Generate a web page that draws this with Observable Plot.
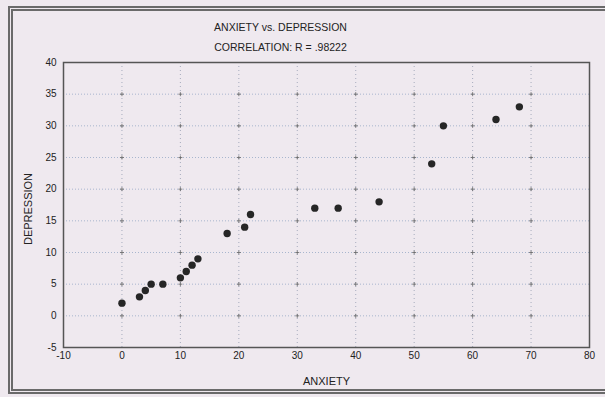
<!DOCTYPE html>
<html><head><meta charset="utf-8">
<script src="https://cdn.jsdelivr.net/npm/d3@7"></script>
<script src="https://cdn.jsdelivr.net/npm/@observablehq/plot@0.6"></script>
<style>
body{margin:0;background:#efe9ef;overflow:hidden;}
#wrap{position:relative;width:605px;height:397px;overflow:hidden;}
#frame{position:absolute;left:8px;top:6px;width:620px;height:388px;border:5px double #6a6a6a;border-right:none;box-sizing:border-box;pointer-events:none;}
#wrap svg{position:absolute;left:0;top:0;}
</style></head><body><div id="wrap"><div id="frame"></div></div>
<script>
const anxiety    = [0, 3, 4, 5, 7, 10, 11, 12, 13, 18, 21, 22, 33, 37, 44, 53, 55, 64, 68];
const depression = [2, 3, 4, 5, 5,  6,  7,  8,  9, 13, 14, 16, 17, 17, 18, 24, 30, 31, 33];
const xTicks = [-10, 0, 10, 20, 30, 40, 50, 60, 70, 80];
const yTicks = [-5, 0, 5, 10, 15, 20, 25, 30, 35, 40];
const title = "ANXIETY vs. DEPRESSION";
const subtitle = "CORRELATION: R = .98222";
const xLabel = "ANXIETY";
const yLabel = "DEPRESSION";

const data = anxiety.map((a, i) => ({anxiety: a, depression: depression[i]}));
const inner = xTicks.slice(1, -1).flatMap(x => yTicks.slice(1, -1).map(y => ({x, y})));
const font = "'Liberation Sans', Arial, sans-serif";

const chart = Plot.plot({
  width: 605, height: 397,
  marginLeft: 63, marginRight: 16, marginTop: 62, marginBottom: 50,
  style: {background: "transparent", fontFamily: font, fontSize: "10px", color: "#222"},
  x: {domain: [-10, 80], ticks: xTicks, tickFormat: d => String(d), label: null, tickSize: 0, tickPadding: 4},
  y: {domain: [-5, 40], ticks: yTicks, tickFormat: d => String(d), label: null, tickSize: 0, tickPadding: 7},
  marks: [
    Plot.gridX(xTicks.slice(1, -1), {stroke: "#8892a8", strokeOpacity: 0.7, strokeDasharray: "1,3"}),
    Plot.gridY(yTicks.slice(1, -1), {stroke: "#8aa0c0", strokeOpacity: 0.7, strokeDasharray: "1,2"}),
    Plot.dot(inner, {x: "x", y: "y", symbol: "plus", r: 1.4, stroke: "#666", strokeOpacity: 0.8, strokeWidth: 1}),
    Plot.frame({stroke: "#555", strokeWidth: 1.5}),
    Plot.dot(data, {x: "anxiety", y: "depression", r: 3.7, fill: "#262626", stroke: "none"}),
    Plot.text([title], {frameAnchor: "top-left", dx: 217, dy: -35, text: d => d, textAnchor: "middle", lineAnchor: "middle", fontSize: 10.5, fill: "#222"}),
    Plot.text([subtitle], {frameAnchor: "top-left", dx: 217, dy: -14.5, text: d => d, textAnchor: "middle", lineAnchor: "middle", fontSize: 10.5, fill: "#222"}),
    Plot.text([xLabel], {frameAnchor: "bottom", dy: 34, text: d => d, textAnchor: "middle", lineAnchor: "middle", fontSize: 11, fill: "#222"}),
    Plot.text([yLabel], {frameAnchor: "left", dx: -35, dy: 4, rotate: -90, text: d => d, textAnchor: "middle", lineAnchor: "middle", fontSize: 11, fill: "#222"})
  ]
});
document.getElementById("wrap").prepend(chart);
</script>
</body></html>
